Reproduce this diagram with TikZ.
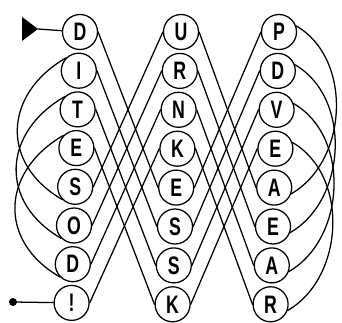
\documentclass[tikz,border=0pt]{standalone}
\usepackage{fontspec}
\setmainfont{Liberation Sans}
\usepackage{graphicx}
\tikzset{
  letter/.style={circle, draw, line width=0.9pt, minimum size=8.75mm, inner sep=0pt,
    font=\bfseries\fontsize{18}{18}\selectfont},
  wire/.style={line width=0.9pt},
}
\newcommand{\narrow}[1]{\scalebox{0.7}[1]{#1}}

\begin{document}
\begin{tikzpicture}[x=0.25mm, y=0.25mm, line cap=round]
\useasboundingbox (0,0) rectangle (342,-323);
% 三列字母圈
\foreach \c/\x/\d/\w in {a/80/38.7/{D,I,T,E,S,O,D,!}, b/181/38.9/{U,R,N,K,E,S,S,K}, c/279/38.9/{P,D,V,E,A,E,A,R}}
  \foreach \l [count=\k] in \w
    \node[letter] (\c\k) at ({\x-1.2*(\k-1)}, {-32-\d*(\k-1)}) {\narrow{\l}};
% 列间交叉线与右侧弧线
\foreach \i in {1,...,4} {
  \pgfmathtruncatemacro\j{\i+4}
  \draw[wire] (a\i.east) -- (b\j.west);
  \draw[wire] (a\j.east) -- (b\i.west);
  \draw[wire] (b\i.east) -- (c\j.west);
  \draw[wire] (b\j.east) -- (c\i.west);
  \draw[wire] (c\i.20) to[out=-30, in=30] (c\j.-20);
}
% 左侧弧线
\foreach \i in {2,3,4} {
  \pgfmathtruncatemacro\j{\i+3}
  \draw[wire] (a\i.135) to[out=210, in=150, looseness=1.3] (a\j.225);
}
% 起点与终点
\coordinate (start) at (38,-29);
\fill (start) -- ++(-16,12) -- ++(0,-24) -- cycle;
\draw[wire] (start) -- (a1);
\coordinate (stop) at (13,-302);
\fill (stop) circle (4);
\draw[wire] (stop) -- (a8);
\end{tikzpicture}
\end{document}
